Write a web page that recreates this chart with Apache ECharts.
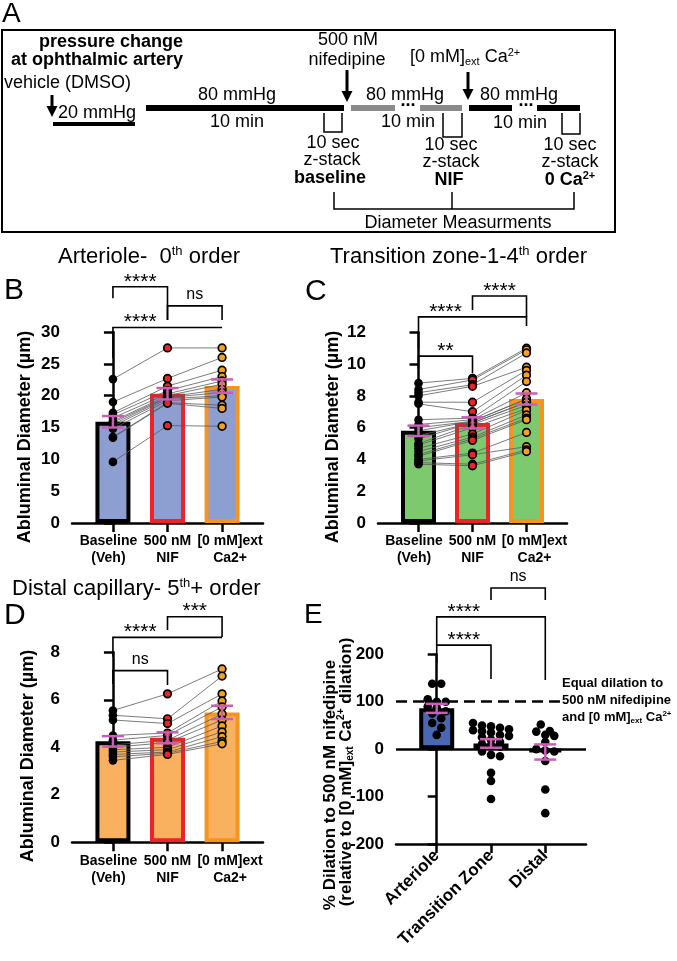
<!DOCTYPE html>
<html><head><meta charset="utf-8">
<script src="https://cdn.jsdelivr.net/npm/echarts@6/dist/echarts.min.js"></script>
<style>html,body{margin:0;padding:0;background:#fff}#c{width:677px;height:961px}</style>
</head><body><div id="c"></div>
<script>
// ---------- DATA ----------
const groupLabels = ['Baseline\n(Veh)', '500 nM\nNIF', '[0 mM]ext\nCa2+'];
const regionLabels = ['Arteriole', 'Transition Zone', 'Distal'];

// B: Arteriole (0th order), µm
const arterioleBaseline = [22.6, 19.0, 17.3, 17.0, 16.5, 16.0, 15.8, 15.5, 15.2, 14.8, 13.5, 13.4, 9.6];
const arterioleNIF      = [27.5, 22.7, 21.5, 20.8, 20.3, 20.0, 19.8, 19.7, 19.5, 19.2, 18.9, 18.8, 15.3];
const arterioleCa       = [27.5, 26.0, 24.0, 23.0, 22.3, 21.8, 21.0, 20.5, 20.0, 19.8, 18.5, 18.0, 15.2];
const arterioleMean = [15.9, 20.3, 21.5];
const arterioleSEM  = [0.9, 0.9, 1.05];
const arterioleTicks = [0, 30, 5];

// C: Transition zone (1-4th order), µm
const transBaseline = [8.8, 8.4, 8.2, 8.0, 7.6, 7.5, 6.5, 6.2, 6.0, 5.8, 5.5, 5.3, 5.0, 4.9, 4.7, 4.5, 4.3, 4.2, 4.0, 3.9, 3.8, 3.7];
const transNIF      = [9.1, 9.0, 8.7, 8.6, 7.6, 7.0, 6.6, 6.5, 6.4, 6.4, 6.3, 6.3, 6.2, 6.0, 5.6, 5.4, 5.3, 5.2, 4.4, 4.3, 3.7, 3.6];
const transCa       = [11.0, 10.9, 10.7, 9.8, 9.6, 9.3, 8.9, 8.2, 7.8, 7.8, 7.6, 7.6, 7.4, 7.2, 7.1, 6.8, 6.6, 6.5, 5.7, 4.8, 4.6, 4.5];
const transMean = [5.8, 6.3, 7.8];
const transSEM  = [0.33, 0.35, 0.35];
const transTicks = [0, 12, 2];

// D: Distal capillary (5th+ order), µm
const distalBaseline = [5.55, 5.35, 5.15, 4.5, 4.3, 4.1, 4.0, 3.9, 3.8, 3.7, 3.6, 3.45];
const distalNIF      = [6.25, 5.2, 5.0, 4.6, 4.5, 4.3, 4.2, 4.0, 3.9, 3.8, 3.75, 3.7];
const distalCa       = [7.3, 7.0, 6.25, 5.95, 5.7, 5.4, 5.15, 4.9, 4.65, 4.45, 4.25, 4.15];
const distalMean = [4.25, 4.4, 5.47];
const distalSEM  = [0.22, 0.23, 0.28];
const distalTicks = [0, 8, 2];

// E: % dilation to nifedipine relative to 0 Ca
const dilArteriole  = [138, 138, 105, 100, 100, 90, 88, 80, 75, 65, 55, 45, 30];
const dilTransition = [55, 50, 48, 45, 42, 40, 38, 35, 30, 28, 25, 20, 15, 10, 8, 5, -5, -12, -15, -50, -67, -105];
const dilDistal     = [52, 38, 37, 30, 28, 15, 0, -3, -5, -25, -85, -135];
const dilMean = [86, 12, -6];
const dilSEM  = [9.5, 9, 16];
const dilTicks = [-200, 200, 100];
const equalDilation = 100;

// significance brackets: [from, to, topY, leftLegEndY, rightLegEndY, label, labelX]
const arterioleBrackets = [
  [0, 1, 37.1, 35.3, 31.9, '****', 0.5],
  [1, 2, 34.1, 31.9, 31.9, 'ns', 1.5],
  [0, 2, 30.7, 25.9, 30.7, '****', 0.5]
];
const transBrackets = [
  [0, 1, 10.5, 9.69, 9.43, '**', 0.5],
  [0, 2, 12.97, 11.0, 12.39, '****', 0.5],
  [1, 2, 14.28, 13.4, 12.97, '****', 1.5]
];
const distalBrackets = [
  [1, 2, 9.5, 8.94, 8.64, '***', 1.5],
  [0, 2, 8.63, 7.81, 8.63, '****', 0.5],
  [0, 1, 7.23, 6.67, 6.62, 'ns', 0.5]
];
const dilBrackets = [
  [1, 2, 339.7, 314.3, 314.3, 'ns', 1.5],
  [0, 2, 279, 219.4, 145.6, '****', 0.5],
  [0, 1, 219.4, 181.4, 147.7, '****', 0.5]
];

// ---------- STYLE ----------
const FONT = '"Liberation Sans", Arial, Helvetica, sans-serif';
const RED = '#ec2327', ORANGE = '#f7941d', ORANGE_DOT = '#f9a11b', ERR = '#c85fb3';
const fillB = '#8d9ed0', fillC = '#7dca6e', fillD = '#f9b160';
const fillE = ['#4a67b1', '#7dca6e', '#f9b160'];
const borders = ['#000', RED, ORANGE];

const grids = [
  {left: 72, top: 332, width: 191, height: 191},
  {left: 378, top: 332.3, width: 189, height: 190.7},
  {left: 72, top: 652.3, width: 191, height: 190},
  {left: 396, top: 654.3, width: 190, height: 189.7}
];

function yAxisCfg(idx, t) {
  return {type: 'value', gridIndex: idx, min: t[0], max: t[1], interval: t[2],
    axisLine: {show: true, lineStyle: {color: '#000', width: 2.5}},
    axisTick: {show: true, length: 9, lineStyle: {color: '#000', width: 2.5}},
    axisLabel: {color: '#000', fontFamily: FONT, fontWeight: 'bold', fontSize: 17, margin: 12},
    splitLine: {show: false}};
}
function xAxisCfg(idx, labels, labelOpts, vals, showLine) {
  return {type: 'value', gridIndex: idx, min: -0.75, max: 2.75, position: 'bottom', offset: 0,
    axisLine: {show: showLine, onZero: false, lineStyle: {color: '#000', width: 2.5}},
    axisTick: {show: showLine, length: 9, customValues: [0, 1, 2], lineStyle: {color: '#000', width: 2.5}},
    axisLabel: Object.assign({customValues: vals, formatter: v => labels[Math.round(v)],
      hideOverlap: false, showMinLabel: true, showMaxLabel: true,
      color: '#000', fontFamily: FONT, fontWeight: 'bold'}, labelOpts),
    splitLine: {show: false}};
}
function barSeries(idx, means, fills, bcols) {
  return {type: 'bar', xAxisIndex: idx, yAxisIndex: idx, barWidth: 35, z: 2, silent: true,
    data: means.map((m, i) => ({value: [i, m], itemStyle: {color: Array.isArray(fills) ? fills[i] : fills, borderColor: bcols[i], borderWidth: 4}}))};
}
function pairSeries(idx, a, b, c) {
  return {type: 'custom', xAxisIndex: idx, yAxisIndex: idx, z: 3, silent: true, clip: false,
    data: a.map((v, i) => [0, v, b[i], c[i]]),
    renderItem(params, api) {
      const p0 = api.coord([0, api.value(1)]);
      const p1 = api.coord([1, api.value(2)]);
      const p2 = api.coord([2, api.value(3)]);
      return {type: 'polyline', shape: {points: [p0, p1, p2]}, style: {stroke: '#5a5a5a', lineWidth: 0.8, fill: 'none'}};
    }};
}
function dotSeries(idx, gi, vals, fill, border) {
  return {type: 'scatter', xAxisIndex: idx, yAxisIndex: idx, z: 4, silent: true,
    symbolSize: border ? 7.6 : 8.6,
    itemStyle: {color: fill, borderColor: '#000', borderWidth: border ? 1.7 : 0, opacity: 1},
    data: vals.map(v => [gi, v])};
}
function errSeries(idx, means, sems) {
  return {type: 'custom', xAxisIndex: idx, yAxisIndex: idx, z: 6, silent: true, clip: false,
    data: means.map((m, i) => [i, m - sems[i], m + sems[i]]),
    renderItem(params, api) {
      const x = api.value(0);
      const lo = api.coord([x, api.value(1)]);
      const hi = api.coord([x, api.value(2)]);
      const h = 11;
      const st = {stroke: ERR, lineWidth: 2.5};
      return {type: 'group', children: [
        {type: 'line', shape: {x1: lo[0], y1: lo[1], x2: hi[0], y2: hi[1]}, style: st},
        {type: 'line', shape: {x1: lo[0] - h, y1: lo[1], x2: lo[0] + h, y2: lo[1]}, style: st},
        {type: 'line', shape: {x1: hi[0] - h, y1: hi[1], x2: hi[0] + h, y2: hi[1]}, style: st}
      ]};
    }};
}
function bracketSeries(idx, list) {
  return {type: 'custom', xAxisIndex: idx, yAxisIndex: idx, z: 5, silent: true, clip: false,
    data: list.map(b => [b[0], b[2], b[1], b[3], b[4], b[6]]),
    renderItem(params, api) {
      const b = list[params.dataIndex];
      const tl = api.coord([b[0], b[2]]), tr = api.coord([b[1], b[2]]);
      const bl = api.coord([b[0], b[3]]), br = api.coord([b[1], b[4]]);
      const tp = api.coord([b[6], b[2]]);
      const star = b[5].indexOf('*') >= 0;
      return {type: 'group', children: [
        {type: 'polyline', shape: {points: [bl, tl, tr, br]}, style: {stroke: '#000', lineWidth: 1.6, fill: 'none'}},
        {type: 'text', style: {text: b[5], x: tp[0], y: tp[1] - (star ? 5 : 11), align: 'center', verticalAlign: 'middle',
          textAlign: 'center', textVerticalAlign: 'middle',
          fontFamily: FONT, fontSize: star ? 21 : 16, fill: '#000'}}
      ]};
    }};
}

// ---------- GRAPHIC (panel A + texts) ----------
const G = [];
function txt(x, y, text, o) {
  o = o || {};
  const s = {text: text, x: x, y: y, fill: '#000', fontFamily: FONT, fontSize: o.size || 18,
    fontWeight: o.bold ? 'bold' : 'normal', align: o.align || 'left', verticalAlign: 'middle',
    textAlign: o.align || 'left', textVerticalAlign: 'middle'};
  if (o.rich) s.rich = o.rich;
  G.push({type: 'text', x: 0, y: 0, rotation: o.rot || 0, originX: x, originY: y, style: s, z: 10});
}
function line(pts, w, col) {
  G.push({type: 'polyline', shape: {points: pts}, style: {stroke: col || '#000', lineWidth: w || 1.5, fill: 'none'}, z: 10});
}
function rect(x, y, w, h, col) {
  G.push({type: 'rect', shape: {x: x, y: y, width: w, height: h}, style: {fill: col || '#000'}, z: 10});
}
function arrow(x, y1, y2) {
  line([[x, y1], [x, y2 - 8]], 3);
  G.push({type: 'polygon', shape: {points: [[x - 5.5, y2 - 11], [x + 5.5, y2 - 11], [x, y2]]}, style: {fill: '#000'}, z: 10});
}
function richSS(size, bold) {
  const w = bold ? 'bold' : 'normal';
  const small = Math.round(size * 0.6);
  return {
    n: {fontFamily: FONT, fontSize: size, fontWeight: w, fill: '#000', lineHeight: size + 2},
    sup: {fontFamily: FONT, fontSize: small, fontWeight: w, fill: '#000', verticalAlign: 'top', lineHeight: small},
    sub: {fontFamily: FONT, fontSize: small, fontWeight: w, fill: '#000', verticalAlign: 'bottom', lineHeight: small}
  };
}

// panel A
G.push({type: 'rect', shape: {x: 2, y: 30, width: 613, height: 202}, style: {fill: 'none', stroke: '#000', lineWidth: 2}, z: 10});
txt(2, 14, 'A', {size: 28});
txt(183, 42, 'pressure change', {bold: true, align: 'right'});
txt(183, 60, 'at ophthalmic artery', {bold: true, align: 'right'});
txt(4, 83, 'vehicle (DMSO)');
arrow(52, 95, 117);
txt(58, 113, '20 mmHg');
rect(53, 122, 82, 4);
txt(198, 95, '80 mmHg');
rect(146, 105, 198, 6);
txt(210, 122, '10 min');
txt(348, 40, '500 nM', {align: 'center'});
txt(347, 60, 'nifedipine', {align: 'center'});
arrow(347, 70, 102);
rect(351, 105, 44, 6, '#8a8a8a');
txt(408, 101, '...', {align: 'center', bold: true});
rect(420, 105, 42, 6, '#8a8a8a');
txt(366, 95, '80 mmHg');
txt(381, 122, '10 min');
txt(410, 57, '{n|[0 mM]}{sub|ext}{n| Ca}{sup|2+}', {rich: richSS(18, false)});
arrow(468, 72, 100);
rect(469, 105, 43, 6);
txt(526, 101, '...', {align: 'center', bold: true});
rect(537, 105, 43, 6);
txt(480, 95, '80 mmHg');
txt(493, 123, '10 min');
line([[324, 113], [324, 132], [342, 132], [342, 113]], 1.5);
line([[443, 113], [443, 137], [462, 137], [462, 113]], 1.5);
line([[562, 113], [562, 134], [580, 134], [580, 113]], 1.5);
txt(333, 143, '10 sec', {align: 'center'});
txt(332, 160, 'z-stack', {align: 'center'});
txt(330, 178, 'baseline', {align: 'center', bold: true});
txt(451, 145, '10 sec', {align: 'center'});
txt(451, 162, 'z-stack', {align: 'center'});
txt(449, 180, 'NIF', {align: 'center', bold: true});
txt(570, 145, '10 sec', {align: 'center'});
txt(570, 162, 'z-stack', {align: 'center'});
txt(570, 180, '{n|0 Ca}{sup|2+}', {align: 'center', rich: richSS(18, true)});
line([[334, 192], [334, 209], [574, 209], [574, 192]], 1.5);
line([[452, 192], [452, 209]], 1.5);
txt(458, 223, 'Diameter Measurments', {align: 'center'});

// panel titles and letters
txt(58, 257, '{n|Arteriole-  0}{sup|th}{n| order}', {rich: richSS(22, false)});
txt(330, 257, '{n|Transition zone-1-4}{sup|th}{n| order}', {rich: richSS(22, false)});
txt(12, 589, '{n|Distal capillary- 5}{sup|th}{n|+ order}', {rich: richSS(22, false)});
txt(4, 291, 'B', {size: 30});
txt(305, 292, 'C', {size: 30});
txt(4, 616, 'D', {size: 30});
txt(304, 615, 'E', {size: 28});
// axis titles
const R = Math.PI / 2;
txt(25, 437, 'Abluminal Diameter (µm)', {bold: true, size: 18, align: 'center', rot: R});
txt(333, 437, 'Abluminal Diameter (µm)', {bold: true, size: 18, align: 'center', rot: R});
txt(28, 756, 'Abluminal Diameter (µm)', {bold: true, size: 18, align: 'center', rot: R});
txt(330, 785, '% Dilation to 500 nM nifedipine', {bold: true, size: 17, align: 'center', rot: R});
txt(346, 772, '{n|(relative to [0 mM]}{sub|ext}{n| Ca}{sup|2+}{n| dilation)}', {align: 'center', rot: R, rich: richSS(17, true)});
txt(562, 683, 'Equal dilation to', {bold: true, size: 13});
txt(562, 700, '500 nM nifedipine', {bold: true, size: 13});
txt(562, 717, '{n|and [0 mM]}{sub|ext}{n| Ca}{sup|2+}', {rich: richSS(13, true)});

// ---------- OPTION ----------
const labFirst = {fontSize: 14, lineHeight: 17, margin: 10, padding: [0, 9, 0, 0]};
const labMid = {fontSize: 14, lineHeight: 17, margin: 10};
const labLast = {fontSize: 14, lineHeight: 17, margin: 10, padding: [0, 0, 0, 16]};
const option = {
  animation: false,
  backgroundColor: '#fff',
  grid: grids.map(g => Object.assign({outerBoundsMode: 'none', containLabel: false}, g)),
  xAxis: [
    xAxisCfg(0, groupLabels, labFirst, [0], true),
    xAxisCfg(1, groupLabels, labFirst, [0], true),
    xAxisCfg(2, groupLabels, labFirst, [0], true),
    xAxisCfg(3, regionLabels, {fontSize: 17, rotate: 45, margin: 9}, [0, 1, 2], true),
    // companion axes on the same scale carry the other group labels so none is auto-hidden
    xAxisCfg(0, groupLabels, labMid, [1], false),
    xAxisCfg(1, groupLabels, labMid, [1], false),
    xAxisCfg(2, groupLabels, labMid, [1], false),
    xAxisCfg(0, groupLabels, labLast, [2], false),
    xAxisCfg(1, groupLabels, labLast, [2], false),
    xAxisCfg(2, groupLabels, labLast, [2], false)
  ],
  yAxis: [yAxisCfg(0, arterioleTicks), yAxisCfg(1, transTicks), yAxisCfg(2, distalTicks), yAxisCfg(3, dilTicks)],
  graphic: {elements: G},
  series: [
    barSeries(0, arterioleMean, fillB, borders),
    pairSeries(0, arterioleBaseline, arterioleNIF, arterioleCa),
    dotSeries(0, 0, arterioleBaseline, '#000', false),
    dotSeries(0, 1, arterioleNIF, RED, true),
    dotSeries(0, 2, arterioleCa, ORANGE_DOT, true),
    errSeries(0, arterioleMean, arterioleSEM),
    bracketSeries(0, arterioleBrackets),

    barSeries(1, transMean, fillC, borders),
    pairSeries(1, transBaseline, transNIF, transCa),
    dotSeries(1, 0, transBaseline, '#000', false),
    dotSeries(1, 1, transNIF, RED, true),
    dotSeries(1, 2, transCa, ORANGE_DOT, true),
    errSeries(1, transMean, transSEM),
    bracketSeries(1, transBrackets),

    barSeries(2, distalMean, fillD, borders),
    pairSeries(2, distalBaseline, distalNIF, distalCa),
    dotSeries(2, 0, distalBaseline, '#000', false),
    dotSeries(2, 1, distalNIF, RED, true),
    dotSeries(2, 2, distalCa, ORANGE_DOT, true),
    errSeries(2, distalMean, distalSEM),
    bracketSeries(2, distalBrackets),

    Object.assign(barSeries(3, dilMean, fillE, ['#000', '#000', '#000']), {
      markLine: {silent: true, symbol: 'none', label: {show: false},
        data: [
          {yAxis: 0, lineStyle: {type: 'solid', color: '#000', width: 2.5}},
          [{coord: [-0.75, equalDilation], lineStyle: {type: [11, 6], color: '#000', width: 2.5}}, {coord: [2.27, equalDilation]}]
        ]}
    }),
    {id: 'e0', type: 'scatter', xAxisIndex: 3, yAxisIndex: 3, z: 4, silent: true, symbolSize: 8.6, itemStyle: {color: '#000', opacity: 1}, data: dilArteriole.map(v => [0, v])},
    {id: 'e1', type: 'scatter', xAxisIndex: 3, yAxisIndex: 3, z: 4, silent: true, symbolSize: 8.6, itemStyle: {color: '#000', opacity: 1}, data: dilTransition.map(v => [1, v])},
    {id: 'e2', type: 'scatter', xAxisIndex: 3, yAxisIndex: 3, z: 4, silent: true, symbolSize: 8.6, itemStyle: {color: '#000', opacity: 1}, data: dilDistal.map(v => [2, v])},
    errSeries(3, dilMean, dilSEM),
    bracketSeries(3, dilBrackets)
  ]
};

const chart = echarts.init(document.getElementById('c'), null, {renderer: 'canvas'});
chart.setOption(option);

// beeswarm layout for panel E, computed in pixel space via the axes
(function () {
  const D = 9, TH = 7;
  const pxPerX = chart.convertToPixel({xAxisIndex: 3}, 1) - chart.convertToPixel({xAxisIndex: 3}, 0);
  function swarm(vals, gi) {
    const items = vals.map((v, i) => ({v: v, y: chart.convertToPixel({yAxisIndex: 3}, v), i: i}));
    items.sort((a, b) => a.y - b.y);
    const out = new Array(vals.length);
    let k = 0;
    while (k < items.length) {
      const start = items[k].y;
      let j = k;
      while (j < items.length && items[j].y - start < TH) j++;
      const n = j - k;
      for (let m = 0; m < n; m++) {
        const off = (m - (n - 1) / 2) * D;
        out[items[k + m].i] = [gi + off / pxPerX, items[k + m].v];
      }
      k = j;
    }
    return out;
  }
  chart.setOption({series: [
    {id: 'e0', data: swarm(dilArteriole, 0)},
    {id: 'e1', data: swarm(dilTransition, 1)},
    {id: 'e2', data: swarm(dilDistal, 2)}
  ]});
})();
</script></body></html>
